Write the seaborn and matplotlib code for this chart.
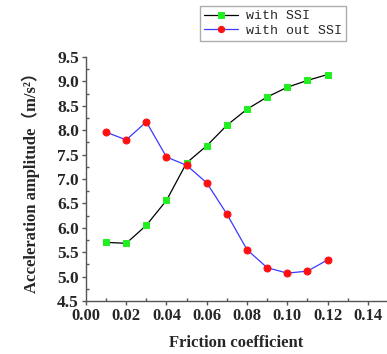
import pandas as pd
import matplotlib
matplotlib.use("Agg")
import matplotlib.pyplot as plt
import seaborn as sns
from matplotlib.ticker import MultipleLocator

#=============================================================================
# Data
#=============================================================================
friction = [0.01, 0.02, 0.03, 0.04, 0.05, 0.06, 0.07, 0.08, 0.09, 0.10, 0.11, 0.12]
with_ssi = [5.70, 5.68, 6.05, 6.56, 7.33, 7.68, 8.10, 8.43, 8.68, 8.88, 9.02, 9.14]
without_ssi = [7.96, 7.80, 8.17, 7.45, 7.28, 6.92, 6.28, 5.55, 5.18, 5.07, 5.11, 5.34]

df = pd.DataFrame({
    "friction": friction,
    "with_ssi": with_ssi,
    "without_ssi": without_ssi,
})

sns.set_style("ticks")
serif = ["Liberation Serif", "Noto Sans CJK SC"]

fig = plt.figure(figsize=(3.87, 3.54), dpi=100)
ax = fig.add_axes([0.222, 0.150, 0.778, 0.689])

sns.lineplot(data=df, x="friction", y="with_ssi", ax=ax,
             color="black", lw=0.9, marker="s", markersize=4.5,
             markerfacecolor="#22ee22", markeredgecolor="#22ee22",
             label="with SSI")
sns.lineplot(data=df, x="friction", y="without_ssi", ax=ax,
             color="#3a3aff", lw=0.9, marker="o", markersize=5,
             markerfacecolor="#ff1010", markeredgecolor="#ff1010",
             label="with out SSI")

ax.set_xlim(0, 0.1495)
ax.set_ylim(4.5, 9.5)
ax.xaxis.set_minor_locator(MultipleLocator(0.01))
ax.yaxis.set_major_locator(MultipleLocator(0.5))
ax.yaxis.set_minor_locator(MultipleLocator(0.25))
ax.set_xticks([0, 0.02, 0.04, 0.06, 0.08, 0.10, 0.12, 0.14])
ax.set_xticklabels(["0.00", "0.02", "0.04", "0.06", "0.08", "0.10", "0.12", "0.14"])

for side in ["top", "right"]:
    ax.spines[side].set_visible(False)
for side in ["left", "bottom"]:
    ax.spines[side].set_color("#555555")
    ax.spines[side].set_linewidth(1.0)

ax.tick_params(which="major", direction="out", length=3, width=1, color="#555555", pad=2)
ax.tick_params(which="minor", direction="in", length=2, width=1, color="#555555")
for lab in ax.get_yticklabels():
    lab.set_family(serif)
    lab.set_fontweight("bold")
    lab.set_fontsize(12.5)
for lab in ax.get_xticklabels():
    lab.set_family(serif)
    lab.set_fontweight("bold")
    lab.set_fontsize(12)

ax.set_xlabel("Friction coefficient", family=serif, fontweight="bold", fontsize=12, labelpad=8)
ax.set_ylabel("Acceleration amplitude（m/s²）", family=serif, fontweight="bold", fontsize=12, labelpad=12)

leg = ax.legend(loc="upper left", bbox_to_anchor=(200 / 387, 1 - 6 / 354),
                bbox_transform=fig.transFigure, frameon=True, fancybox=False,
                prop={"family": "Liberation Mono", "size": 9.5},
                handlelength=2.6, handletextpad=0.6, borderpad=0.3,
                labelspacing=0.2, borderaxespad=0, markerscale=0.9)
leg.get_frame().set_edgecolor("#999999")
leg.get_frame().set_linewidth(1.0)

fig.savefig("out.png", dpi=100)
